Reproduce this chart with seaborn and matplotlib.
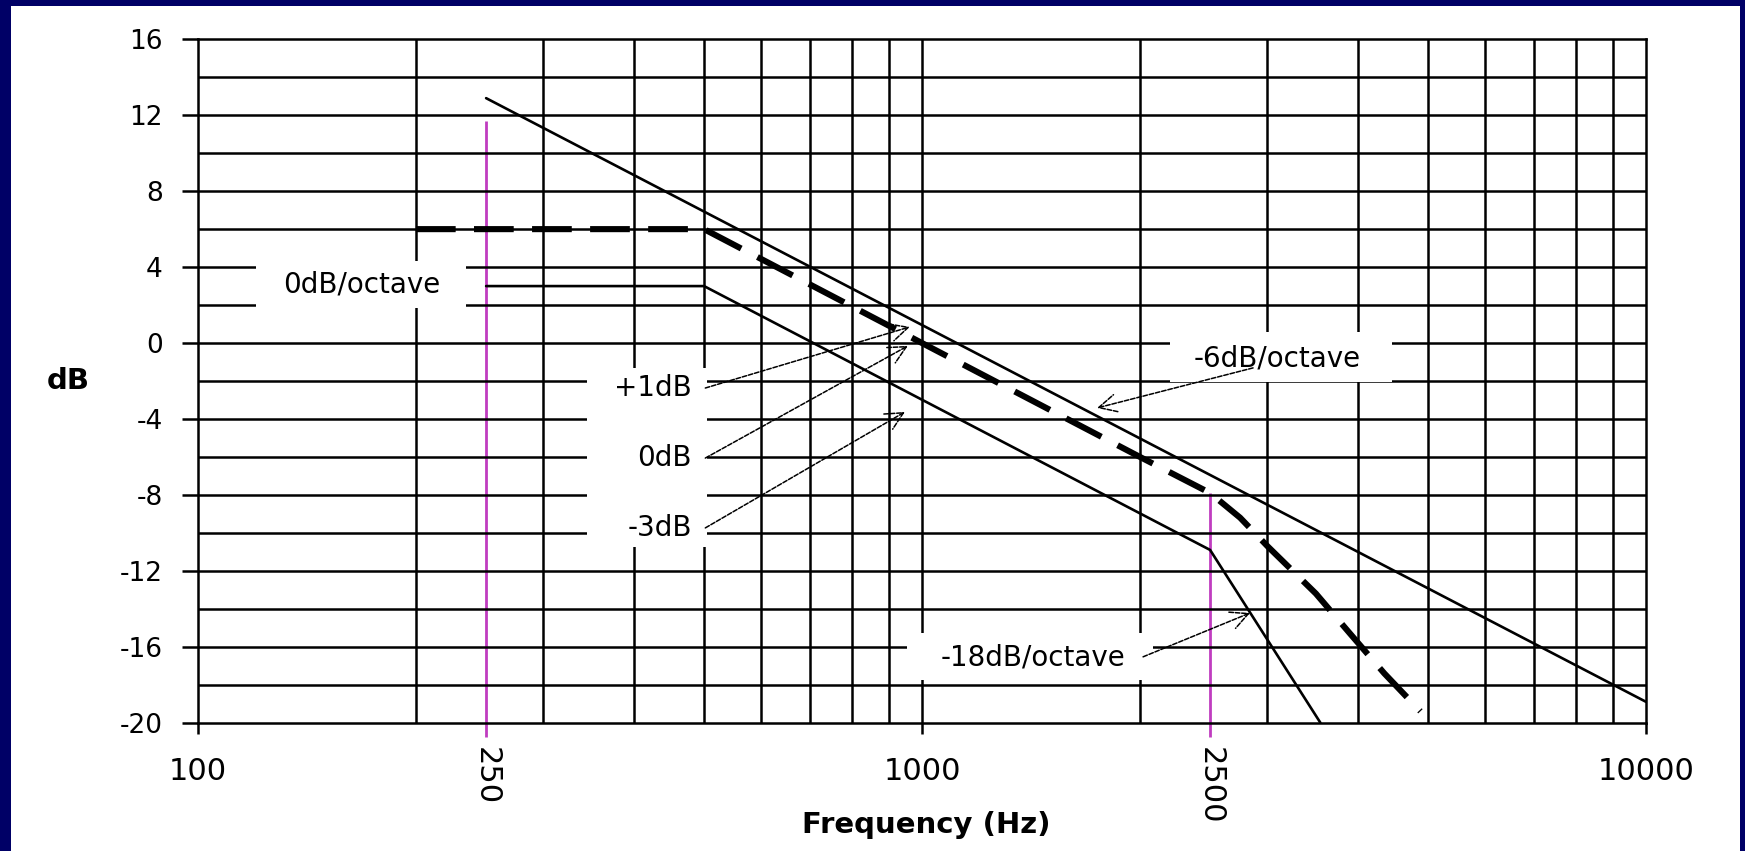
import matplotlib
matplotlib.use("Agg")
import matplotlib.pyplot as plt
from matplotlib.patches import Rectangle
from matplotlib.ticker import NullLocator
import seaborn as sns

# Axis grid and tick values
db_ticks = [-20, -16, -12, -8, -4, 0, 4, 8, 12, 16]
db_tick_labels = ["-20", "-16", "-12", "-8", "-4", "0", "4", "8", "12", "16"]
db_grid = [-18, -16, -14, -12, -10, -8, -6, -4, -2, 0, 2, 4, 6, 8, 10, 12, 14]
freq_grid = [200, 300, 400, 500, 600, 700, 800, 900, 1000,
             2000, 3000, 4000, 5000, 6000, 7000, 8000, 9000]
freq_ticks = [100, 250, 1000, 2500, 10000]
freq_tick_labels = ["100", "250", "1000", "2500", "10000"]

# Curves
slope6_freq = [250, 10000]
slope6_db = [12.9, -18.9]
target_freq = [200, 500, 1000, 2000, 2500, 2750, 3000, 3500, 3900, 4350, 4880]
target_db = [6, 6, 0, -6, -7.9, -9.2, -10.7, -13.2, -15.3, -17.4, -19.4]
lower_freq = [250, 500, 2500, 3550]
lower_db = [3, 3, -10.9, -20]
marker_freq = [250, 2500]
marker_top = [11.7, -7.9]

NAVY = "#000066"
MAGENTA = "#c03cc0"

sns.set_style("white")
plt.rcParams["font.family"] = ["DejaVu Sans"]
plt.rcParams["text.color"] = "black"
plt.rcParams["axes.labelcolor"] = "black"
plt.rcParams["xtick.color"] = "black"
plt.rcParams["ytick.color"] = "black"

fig = plt.figure(figsize=(17.45, 8.51), dpi=100, facecolor=NAVY)
# white slide panel
fig.patches.append(Rectangle((11 / 1745, 0), (1740 - 11) / 1745, (851 - 6) / 851,
                             transform=fig.transFigure, facecolor="white",
                             edgecolor="none", zorder=-1))

ax = fig.add_axes([198 / 1745, 1 - 722.7 / 851, 1448 / 1745, 683.4 / 851])
ax.set_xscale("log")
ax.set_xlim(100, 10000)
ax.set_ylim(-20, 16)
ax.set_facecolor("white")

# grid
for d in db_grid:
    ax.axhline(d, color="black", lw=1.8, zorder=1)
for f in freq_grid:
    ax.axvline(f, color="black", lw=1.8, zorder=1)

# white label boxes knocking out the grid
label_boxes = [
    ((120.3, 1.85), (234.6, 4.32)),
    ((344.5, -10.74), (504.7, -1.31)),
    ((2200, -2.05), (4460, 0.58)),
    ((953.5, -17.75), (2085, -15.27)),
]
for (x0, y0), (x1, y1) in label_boxes:
    ax.add_patch(Rectangle((x0, y0), x1 - x0, y1 - y0, facecolor="white",
                           edgecolor="none", zorder=1.5))

# magenta markers at 250 Hz and 2500 Hz
ax.vlines(marker_freq, -20.75, marker_top, color=MAGENTA, lw=2.0,
          zorder=0.9, clip_on=False)

sns.lineplot(x=slope6_freq, y=slope6_db, ax=ax, color="black",
             linewidth=1.9, sort=False, estimator=None, zorder=3)
sns.lineplot(x=lower_freq, y=lower_db, ax=ax, color="black",
             linewidth=1.9, sort=False, estimator=None, zorder=3)
sns.lineplot(x=target_freq, y=target_db, ax=ax, color="black",
             linewidth=4.4, linestyle=(0, (6.5, 3)), sort=False,
             estimator=None, zorder=3)

# annotations
ann_fs = 20
arrow_kw = dict(arrowstyle="->,head_length=0.7,head_width=0.35", color="black",
                lw=1.1, linestyle=(0, (3, 1.2)), shrinkA=0, shrinkB=0,
                mutation_scale=18)

ax.text(168.5, 3.06, "0dB/octave", fontsize=ann_fs, ha="center", va="center", zorder=4)

for label, ytxt, tip in [("+1dB", -2.37, (962, 0.85)),
                         ("0dB", -6.06, (956, -0.15)),
                         ("-3dB", -9.74, (947, -3.63))]:
    ax.text(481, ytxt, label, fontsize=ann_fs, ha="right", va="center", zorder=4)
    ax.annotate("", xy=tip, xytext=(502, ytxt), arrowprops=arrow_kw, zorder=4)

ax.text(3094, -0.79, "-6dB/octave", fontsize=ann_fs, ha="center", va="center", zorder=4)
ax.annotate("", xy=(1745, -3.42), xytext=(2866, -1.31), arrowprops=arrow_kw, zorder=4)

ax.text(1423, -16.59, "-18dB/octave", fontsize=ann_fs, ha="center", va="center", zorder=4)
ax.annotate("", xy=(2838, -14.22), xytext=(2020, -16.53), arrowprops=arrow_kw, zorder=4)

# axes, ticks and labels
for s in ax.spines.values():
    s.set_visible(True)
    s.set_color("black")
    s.set_linewidth(1.8)

ax.set_yticks(db_ticks)
ax.set_yticklabels(db_tick_labels)
ax.set_xticks(freq_ticks)
ax.set_xticklabels(freq_tick_labels)
ax.xaxis.set_minor_locator(NullLocator())
ax.yaxis.set_minor_locator(NullLocator())
ax.tick_params(axis="y", direction="out", length=11.5, width=1.8, pad=14,
               labelsize=19, left=True, color="black", labelcolor="black")
ax.tick_params(axis="x", direction="out", length=8, width=1.8, pad=17,
               labelsize=22, bottom=True, color="black", labelcolor="black")

for i, tick in enumerate(ax.xaxis.get_major_ticks()):
    if freq_ticks[i] in marker_freq:
        tick.tick1line.set_visible(False)
        tick.set_pad(9.5)
        tick.label1.set_rotation(270)

ax.set_ylabel("dB", rotation=0, fontsize=21, fontweight="bold",
              ha="center", va="center", color="black")
ax.yaxis.set_label_coords(-0.0898, 0.5)
ax.set_xlabel("Frequency (Hz)", fontsize=21, fontweight="bold", va="center",
              color="black")
ax.xaxis.set_label_coords(0.503, -0.1497)

fig.savefig("out.png", dpi=100, facecolor=fig.get_facecolor())
